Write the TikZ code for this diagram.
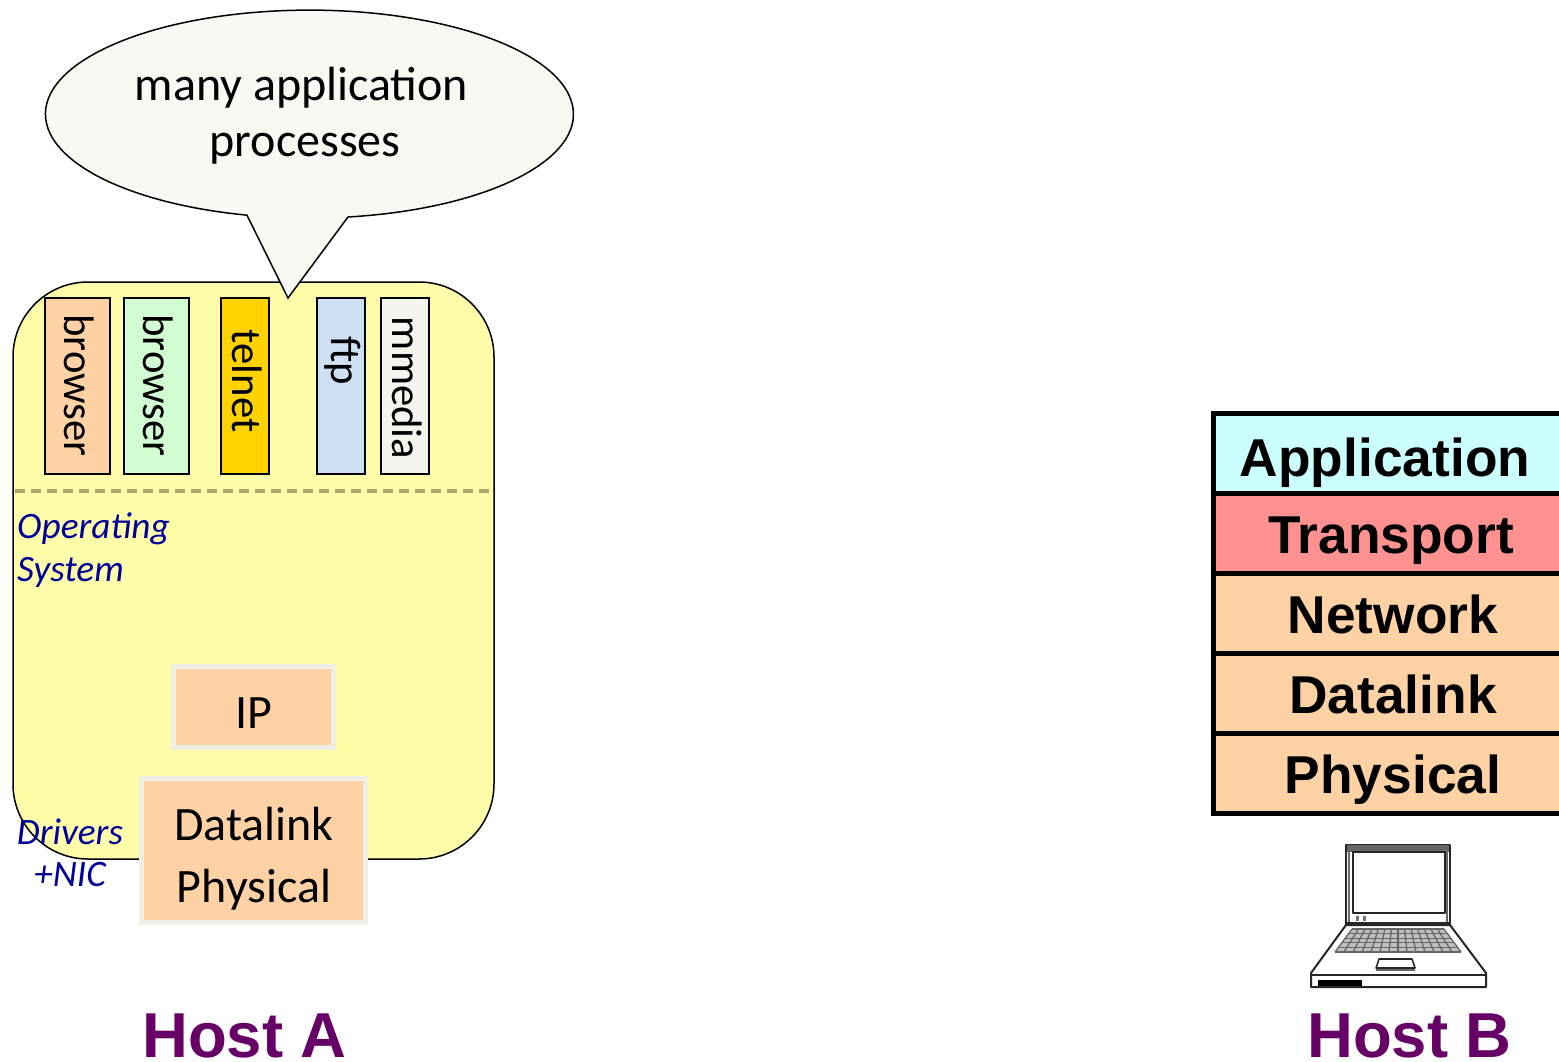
\documentclass[tikz,border=0pt]{standalone}
\usepackage{fontspec}
\setmainfont{Carlito}
\newfontfamily\arialf{Liberation Sans}
\definecolor{hostyellow}{HTML}{FFFDAA}
\definecolor{peach}{HTML}{FFD2A6}
\definecolor{mint}{HTML}{D2FCD2}
\definecolor{gold}{HTML}{FFD200}
\definecolor{paleblue}{HTML}{CEDFF2}
\definecolor{offwhite}{HTML}{F5F4EF}
\definecolor{bubblefill}{HTML}{F8F9F3}
\definecolor{layerborder}{HTML}{EFEFE6}
\definecolor{dashcol}{HTML}{AEA66B}
\definecolor{oslabel}{HTML}{000099}
\definecolor{hostlabel}{HTML}{660066}
\definecolor{appcyan}{HTML}{CCFFFF}
\definecolor{transred}{HTML}{FF9191}
\tikzset{
  x=1pt,y=1pt,
  appbox/.style={draw=black,line width=1.5pt,minimum height=176pt,inner sep=0pt},
  apptext/.style={rotate=-90,font=\fontsize{42.7}{42.7}\selectfont,inner sep=0pt,anchor=center},
  oslayer/.style={fill=peach,draw=layerborder,line width=5pt,inner sep=0pt},
  layertext/.style={font=\fontsize{48}{48}\selectfont,inner sep=0pt,anchor=base},
  ositalic/.style={font=\fontsize{37.3}{43}\selectfont\itshape,text=oslabel,inner sep=0pt},
  hosttext/.style={font=\fontsize{63.5}{63.5}\selectfont\arialf\bfseries,text=hostlabel,inner sep=0pt,anchor=base},
  stackbox/.style={draw=black,line width=5pt,minimum width=349pt,minimum height=80pt,inner sep=0pt,outer sep=0pt,anchor=north west},
  stacktext/.style={font=\fontsize{53.3}{53.3}\selectfont\arialf\bfseries,inner sep=0pt,anchor=base},
  bubbleline/.style={font=\fontsize{48}{48}\selectfont,inner sep=0pt,anchor=base},
  lap/.style={draw=black!85,line width=1.6pt,line join=round},
  lapthin/.style={draw=black!60,line width=1.3pt},
}
\begin{document}
\begin{tikzpicture}[yscale=-1]
\useasboundingbox (0,0) rectangle (1559,1062);
\fill[white] (0,0) rectangle (1559,1062);
% host A body
\node[draw=black,line width=1.5pt,fill=hostyellow,rounded corners=75pt,minimum width=481pt,minimum height=577pt,inner sep=0pt] (hosta) at (253.5,570.5) {};
\coordinate (dashL) at (15,491);
\coordinate (dashR) at (491,491);
\draw[dashcol,line width=4pt,dash pattern=on 10pt off 6pt] (dashL) -- (dashR);
% application boxes
\node[appbox,fill=peach,minimum width=65pt] (b1box) at (77.5,386) {};
\node[appbox,fill=mint,minimum width=65pt] (b2box) at (156.5,386) {};
\node[appbox,fill=gold,minimum width=48pt] (tbox) at (245,386) {};
\node[appbox,fill=paleblue,minimum width=48pt] (fbox) at (341,386) {};
\node[appbox,fill=offwhite,minimum width=48pt] (mbox) at (405,386) {};
\node[apptext] (b1) at (79,385.5) {browser};
\node[apptext] (b2) at (158,385.5) {browser};
\node[apptext] (tel) at (247,381) {telnet};
\node[apptext] (ftp) at (342.5,361) {ftp};
\node[apptext] (mm) at (407,388) {mmedia};
% speech bubble
\draw[draw=black,line width=1.5pt,fill=bubblefill,line join=miter]
  (348,217) arc[start angle=81.6,end angle=-256.3,x radius=264,y radius=104]
  -- (288,298) -- cycle;
\node[bubbleline] (bubbletext1) at (301.5,101) {many application};
\node[bubbleline] (bubbletext2) at (305,157) {processes};
% OS labels
\node[ositalic,anchor=base west] (os1) at (17,538) {Operating};
\node[ositalic,anchor=base west] (os2) at (17,581) {System};
% layer boxes
\node[oslayer,minimum width=160pt,minimum height=81pt] (ip) at (253,706.5) {};
\node[layertext] (iptext) at (254,728) {IP};
\node[oslayer,minimum width=224pt,minimum height=144pt] (dl) at (253,850.5) {};
\node[layertext] (dltext) at (254,840.5) {Datalink};
\node[layertext] (phtext) at (254,902.5) {Physical};
\node[ositalic,anchor=base] (drv1) at (70,844) {Drivers};
\node[ositalic,anchor=base] (drv2) at (70,886) {+NIC};
% host labels
\node[hosttext] (hostAlabel) at (244.5,1057) {Host A};
\node[hosttext] (hostBlabel) at (1409.5,1057) {Host B};
% protocol stack of host B
\begin{scope}
\clip (0,0) rectangle (1559,1062);
\node[stackbox,fill=appcyan] (sa) at (1213.5,413) {};
\node[stackbox,fill=transred] (st) at (1213.5,493) {};
\node[stackbox,fill=peach] (sn) at (1213.5,573) {};
\node[stackbox,fill=peach] (sd) at (1213.5,653) {};
\node[stackbox,fill=peach] (sp) at (1213.5,733) {};
\end{scope}
\node[stacktext] (satext) at (1385,476) {Application};
\node[stacktext] (sttext) at (1391,553) {Transport};
\node[stacktext] (sntext) at (1393,633) {Network};
\node[stacktext] (sdtext) at (1393,713) {Datalink};
\node[stacktext] (sptext) at (1393,793) {Physical};
% laptop
\draw[lap,line width=2.4pt] (1346,925) -- (1346,845) -- (1450,845) -- (1450,925);
\fill[black!60] (1347,845) rectangle (1449,852);
\draw[lapthin] (1349,852) -- (1349,923);
\draw[lapthin] (1447,852) -- (1447,923);
\draw[lap,line width=1.9pt] (1353,852) rectangle (1445,913);
\draw[lap,line width=2pt] (1347,923) -- (1449,923);
\fill[black!55] (1356,916) rectangle (1359,921);
\fill[black!55] (1363,916) rectangle (1366,921);
\draw[lap,line width=2pt] (1346,925) -- (1450,925) -- (1486,973) -- (1486,987) -- (1311,987) -- (1311,973) -- cycle;
\draw[lap,line width=2.4pt] (1311,975) -- (1486,975);
\fill[black] (1318,980) rectangle (1362,986);
\draw[lap] (1376,968) -- (1379,959) -- (1412,959) -- (1415,968) -- cycle;
\draw[lapthin] (1376,970) -- (1415,970);
% keyboard
\fill[black!25] (1352,929) -- (1444,929) -- (1461,952) -- (1335,952) -- cycle;
\foreach \t in {0,0.2,0.4,0.6,0.8,1}{
  \draw[lapthin] ({1352-17*\t},{929+23*\t}) -- ({1444+17*\t},{929+23*\t});
}
\foreach \s in {0,...,14}{
  \draw[lapthin] ({1352+\s*92/14},929) -- ({1335+\s*126/14},952);
}
\end{tikzpicture}
\end{document}
